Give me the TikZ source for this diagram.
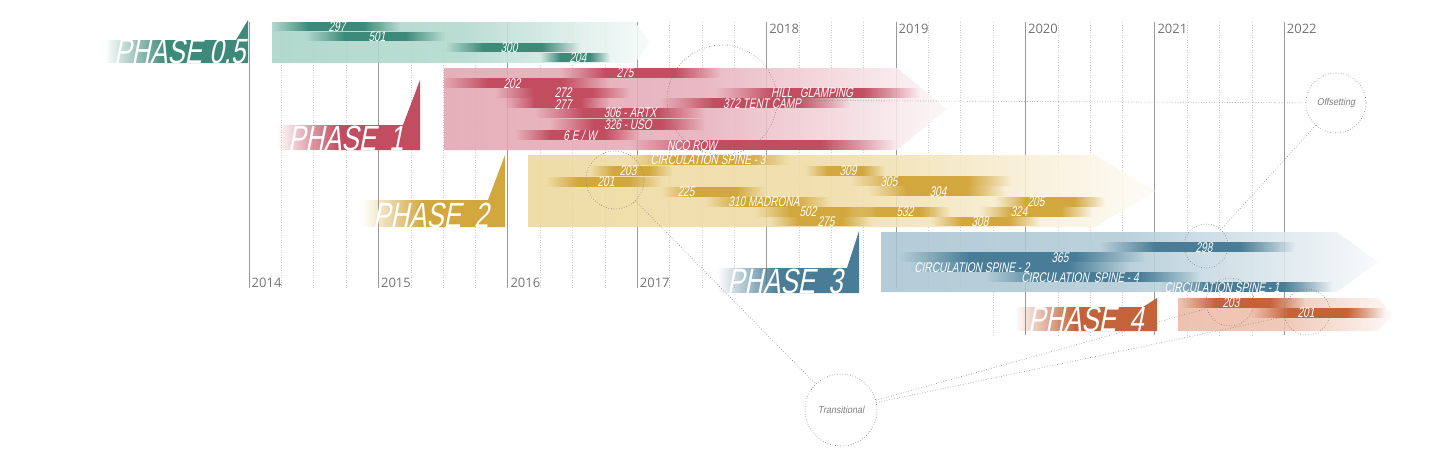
\documentclass[tikz,border=0pt]{standalone}
\usepackage{fontspec}
\usepackage{tikz}
\usetikzlibrary{fadings,positioning}

\newfontfamily\phasefont[FakeStretch=0.74,FakeSlant=0.2]{Liberation Sans}
\newfontfamily\stripfont[FakeStretch=0.72,FakeSlant=0.2]{Liberation Sans}
\newfontfamily\notefont[FakeStretch=0.9,FakeSlant=0.2]{Liberation Sans}
\newfontfamily\yearfont{Open Sans}

\definecolor{tealdark}{HTML}{3E8A7A}
\definecolor{teallight}{HTML}{A8D4C7}
\definecolor{rosedark}{HTML}{C24D61}
\definecolor{roselight}{HTML}{E3A5B1}
\definecolor{golddark}{HTML}{D2A73D}
\definecolor{goldlight}{HTML}{EDD89C}
\definecolor{bluedark}{HTML}{497D97}
\definecolor{bluelight}{HTML}{A9C5D2}
\definecolor{rustdark}{HTML}{C4633A}
\definecolor{rustlight}{HTML}{ECBAA5}

\tikzfading[name=fadein, left color=transparent!100, right color=transparent!0]
\tikzfading[name=fadeout, left color=transparent!0, right color=transparent!100]

% bar: colour, x left, x end, x tip, y top, y bottom
\newcommand{\phasebar}[6]{%
  \shade[left color=#1, right color=#1!10, middle color=#1!90, fill opacity=0.88]
    (#2,#5) -- (#3,#5) -- (#4,{(#5+#6)/2}) -- (#3,#6) -- (#2,#6) -- cycle;
}
% strip: colour, x from, x to, y top, y bottom
\newcommand{\phasestrip}[5]{%
  \pgfmathsetmacro\sa{#2+0.28*(#3-#2)}%
  \pgfmathsetmacro\sb{#3-0.28*(#3-#2)}%
  \fill[#1, path fading=fadein] (#2,#4) rectangle ({\sa+0.5},#5);
  \fill[#1] (\sa,#4) rectangle (\sb,#5);
  \fill[#1, path fading=fadeout] ({\sb-0.5},#4) rectangle (#3,#5);
}
% block: colour, x left, x right, x slant, y top, y bottom, y apex
\newcommand{\phaseblock}[7]{%
  \fill[#1, path fading=fadein] (#2,#5) rectangle ({#2+61},#6);
  \fill[#1] ({#2+60},#5) -- (#4,#5) -- (#3,#7) -- (#3,#6) -- ({#2+60},#6) -- cycle;
}

\begin{document}
\begin{tikzpicture}[x=1pt, y=-1pt,
    yearline/.style={draw=black!40, line width=0.7pt},
    quarterline/.style={draw=black!20, line width=0.5pt, dotted},
    yearlabel/.style={font=\yearfont\fontsize{13}{13}\selectfont, text=black!55, inner sep=0pt, anchor=base west},
    phaselabel/.style={font=\phasefont\fontsize{35}{35}\selectfont, text=white, inner sep=0pt, anchor=base west},
    striplabel/.style={font=\stripfont\fontsize{14}{14}\selectfont, text=white, inner sep=0pt, text height=9.5pt, text depth=0pt},
    ring/.style={circle, draw=black!55, dotted, line width=0.6pt, inner sep=0pt},
    note/.style={ring, font=\notefont\fontsize{10}{10}\selectfont, text=black!50},
    link/.style={draw=black!50, dotted, line width=0.6pt}
]
\useasboundingbox (0,0) rectangle (1440,466);

% Grid
\foreach \k in {0,...,32}{
  \pgfmathsetmacro\gx{249+32.35*\k}
  \pgfmathsetmacro\gy{ifthenelse(\gx<990,288,335)}
  \pgfmathtruncatemacro\gm{mod(\k,4)}
  \ifnum\gm=0
    \draw[yearline] (\gx,22) -- (\gx,\gy);
  \else
    \draw[quarterline] (\gx,22) -- (\gx,\gy);
  \fi
}

% Years
\foreach \yr [count=\i from 0] in {2014,...,2022}{
  \pgfmathsetmacro\gx{251.5+129.4*\i}
  \ifnum\i<4
    \node[yearlabel] (y\yr) at (\gx,287) {\yr};
  \else
    \node[yearlabel] (y\yr) at (\gx,33) {\yr};
  \fi
}

% Phase 0.5
\phasebar{teallight}{272}{635}{650}{22}{63}
\phasestrip{tealdark}{272}{400}{22}{31}
\phasestrip{tealdark}{305}{445}{32}{41}
\phasestrip{tealdark}{445}{580}{43}{52}
\phasestrip{tealdark}{540}{610}{53}{62}
\node[striplabel] (s297) at (337,27) {297};
\node[striplabel] (s501) at (377,37) {501};
\node[striplabel] (s300) at (509,48) {300};
\node[striplabel] (s204) at (578,58) {204};

% Phase 1
\phasebar{roselight}{444}{897}{947}{68}{150}
\phasestrip{rosedark}{560}{720}{68}{78}
\phasestrip{rosedark}{440}{610}{78}{88}
\phasestrip{rosedark}{495}{630}{88}{98}
\phasestrip{rosedark}{715}{920}{88}{98}
\phasestrip{rosedark}{505}{610}{98}{108}
\phasestrip{rosedark}{660}{850}{98}{108}
\phasestrip{rosedark}{535}{705}{108}{118}
\phasestrip{rosedark}{550}{705}{119}{130}
\phasestrip{rosedark}{515}{640}{130}{140}
\phasestrip{rosedark}{630}{895}{140}{150}
\node[striplabel] (s275a) at (625,73) {275};
\node[striplabel] (s202) at (512,83.5) {202};
\node[striplabel] (s272) at (563,92.5) {272};
\node[striplabel] (s277) at (563,104.5) {277};
\node[striplabel] (shill) at (812,93) {HILL\,\, GLAMPING};
\node[striplabel] (stent) at (762,104) {372 TENT CAMP};
\node[striplabel] (sartx) at (630,113) {306 - ARTX};
\node[striplabel] (suso) at (628,125) {326 - USO};
\node[striplabel] (sew) at (580,135.5) {6 E / W};
\node[striplabel] (snco) at (692,146) {NCO ROW};

% Phase 2
\phasebar{goldlight}{528}{1095}{1155}{155}{227}
\phasestrip{golddark}{630}{790}{155}{165}
\phasestrip{golddark}{590}{672}{166}{176}
\phasestrip{golddark}{805}{885}{166}{176}
\phasestrip{golddark}{545}{662}{177}{187}
\phasestrip{golddark}{850}{1012}{176}{186}
\phasestrip{golddark}{662}{765}{187}{197}
\phasestrip{golddark}{868}{1005}{186}{196}
\phasestrip{golddark}{705}{830}{197}{207}
\phasestrip{golddark}{995}{1105}{197}{207}
\phasestrip{golddark}{755}{880}{207}{217}
\phasestrip{golddark}{848}{950}{207}{217}
\phasestrip{golddark}{980}{1092}{207}{217}
\phasestrip{golddark}{770}{870}{217}{226}
\phasestrip{golddark}{930}{1040}{217}{226}
\node[striplabel] (sspine3) at (708,160) {CIRCULATION SPINE - 3};
\node[striplabel] (s203a) at (628,171) {203};
\node[striplabel] (s309) at (848,171) {309};
\node[striplabel] (s201a) at (606,181.5) {201};
\node[striplabel] (s305) at (889,181.5) {305};
\node[striplabel] (s225) at (686,192) {225};
\node[striplabel] (s304) at (938,192) {304};
\node[striplabel] (smad) at (764,202) {310 MADRONA};
\node[striplabel] (s205) at (1036,202) {205};
\node[striplabel] (s502) at (808,212) {502};
\node[striplabel] (s532) at (905,212) {532};
\node[striplabel] (s324) at (1019,212) {324};
\node[striplabel] (s275b) at (826,222) {275};
\node[striplabel] (s308) at (980,222) {308};

% Phase 3
\phasebar{bluelight}{881}{1337}{1378}{232}{292}
\phasestrip{bluedark}{1100}{1295}{242}{252}
\phasestrip{bluedark}{900}{1145}{252}{262}
\phasestrip{bluedark}{910}{1130}{262}{272}
\phasestrip{bluedark}{985}{1200}{272}{282}
\phasestrip{bluedark}{1160}{1332}{282}{292}
\node[striplabel] (s298) at (1204,247.5) {298};
\node[striplabel] (s365) at (1060,257.5) {365};
\node[striplabel] (sspine2) at (972,268) {CIRCULATION SPINE - 2};
\node[striplabel] (sspine4) at (1080,278) {CIRCULATION\, SPINE - 4};
\node[striplabel] (sspine1) at (1222,288) {CIRCULATION SPINE - 1};

% Phase 4
\phasebar{rustlight}{1178}{1378}{1393}{298}{331}
\phasestrip{rustdark}{1180}{1305}{298}{308}
\phasestrip{rustdark}{1250}{1385}{308}{318}
\node[striplabel] (s203b) at (1231,303) {203};
\node[striplabel] (s201b) at (1306,313) {201};

% Phase blocks
\phaseblock{tealdark}{105}{248}{236}{40}{63}{20}
\phaseblock{rosedark}{277}{420}{403}{125}{150}{80}
\phaseblock{golddark}{362}{505}{488}{200}{227}{155}
\phaseblock{bluedark}{717}{859}{847}{268}{293}{231}
\phaseblock{rustdark}{1015}{1157}{1143}{307}{331}{298}
\node[phaselabel] (p05) at (114,63) {PHASE 0.5};
\node[phaselabel] (p1) at (288,150) {PHASE\, 1};
\node[phaselabel] (p2) at (373,227) {PHASE\, 2};
\node[phaselabel] (p3) at (727,293) {PHASE\, 3};
\node[phaselabel] (p4) at (1028,331) {PHASE\, 4};

% Circles
\node[ring, minimum size=110pt] (c372) at (722,100) {};
\node[ring, minimum size=58pt] (c201) at (615,180) {};
\node[ring, minimum size=44pt] (c298) at (1206,246) {};
\node[ring, minimum size=48pt] (c203) at (1230,302) {};
\node[ring, minimum size=46pt] (c201r) at (1307,312) {};
\node[note, minimum size=60pt] (offset) at (1336,103) {Offsetting};
\node[note, minimum size=72pt] (trans) at (841,410) {Transitional};

% Links
\draw[link] (c372) -- (offset);
\draw[link] (offset) -- (c298);
\draw[link] (c201) -- (trans);
\draw[link] (trans) -- (c203);
\draw[link] (trans) -- (c201r);

\end{tikzpicture}
\end{document}
